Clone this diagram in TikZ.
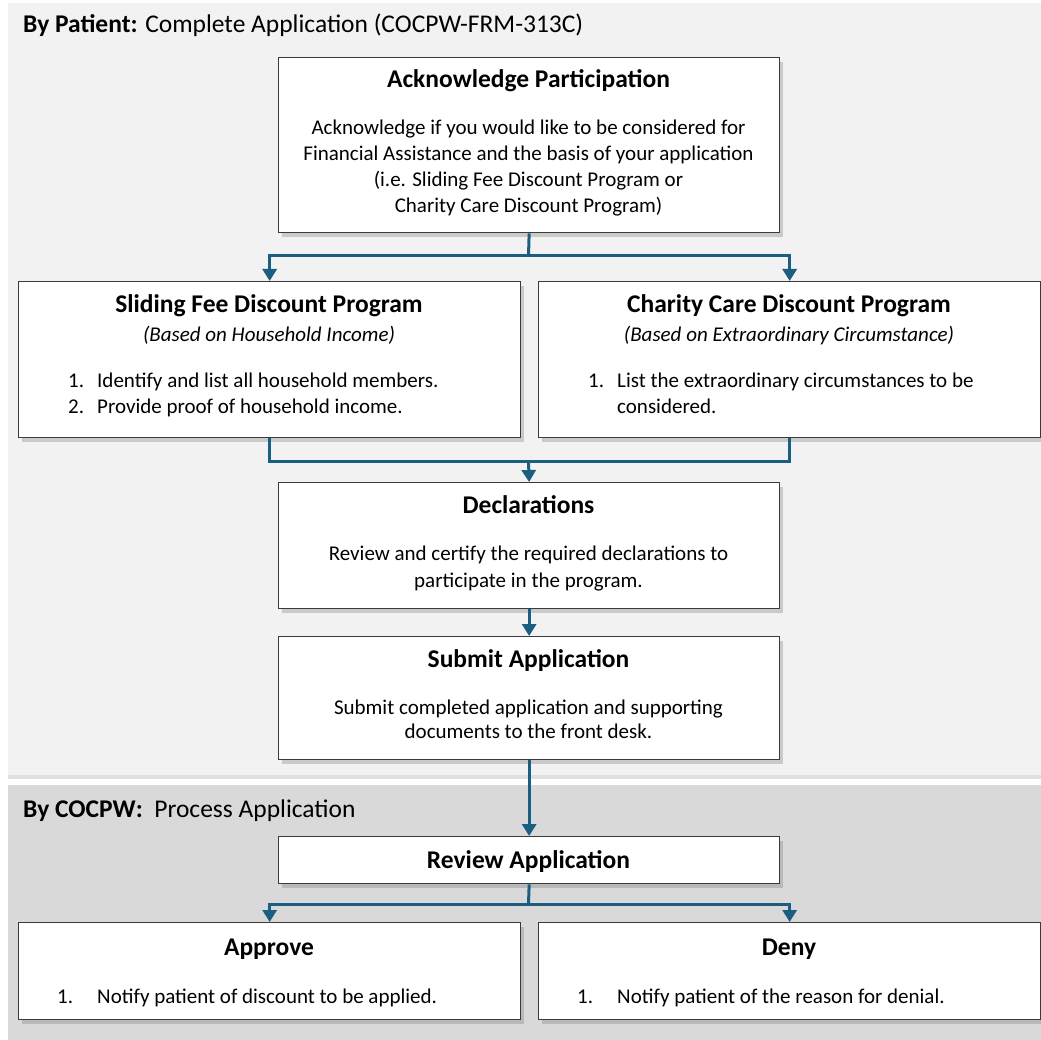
\documentclass[tikz,border=0pt]{standalone}
\usepackage{fontspec}
\setmainfont{Carlito}
\usetikzlibrary{shadows,arrows.meta}
\definecolor{panelA}{HTML}{F2F2F2}
\definecolor{panelB}{HTML}{D9D9D9}
\definecolor{connC}{HTML}{1B5E82}
\definecolor{edgeC}{HTML}{3A3A3A}
\tikzset{
  panel/.style={draw=none, rectangle, inner sep=0pt, anchor=north west},
  box/.style={rectangle, draw=edgeC, line width=1.3pt, fill=white, inner sep=0pt, anchor=north west,
    drop shadow={opacity=0.35, shadow xshift=3pt, shadow yshift=-4pt}},
  ttl/.style={font=\fontsize{25.5}{28}\selectfont\bfseries, anchor=base, inner sep=0pt},
  txt/.style={font=\fontsize{21}{24}\selectfont, anchor=base, inner sep=0pt},
  sub/.style={font=\fontsize{21}{24}\selectfont\itshape, anchor=base, inner sep=0pt},
  itm/.style={font=\fontsize{21}{24}\selectfont, anchor=base west, inner sep=0pt},
  hdr/.style={font=\fontsize{25.5}{28}\selectfont, anchor=base west, inner sep=0pt},
  conn/.style={draw=connC, line width=3pt, -{Triangle[width=14pt,length=12pt]}},
  connl/.style={draw=connC, line width=3pt}
}
\begin{document}
\begin{tikzpicture}[x=1pt,y=-1pt]
\useasboundingbox (0,0) rectangle (1041,1040);
\fill[white] (0,0) rectangle (1041,1040);
% panels
\node[panel, fill=panelA, minimum width=1033, minimum height=772,
  drop shadow={opacity=0.25, shadow xshift=0pt, shadow yshift=-4pt}] (pA) at (8,3) {};
\node[panel, fill=panelB, minimum width=1033, minimum height=255] (pB) at (8,785) {};
\node[hdr] (hA) at (23,33) {\textbf{By Patient:} Complete Application (COCPW-FRM-313C)};
\node[hdr] (hB) at (23,817) {\textbf{By COCPW:}\ \ Process Application};

% boxes
\node[box, minimum width=501, minimum height=175] (ack) at (278,57) {};
\node[box, minimum width=502, minimum height=156] (slide) at (18,281) {};
\node[box, minimum width=502, minimum height=156] (char) at (538,281) {};
\node[box, minimum width=501, minimum height=126] (decl) at (278,482) {};
\node[box, minimum width=501, minimum height=123] (subm) at (278,636) {};
\node[box, minimum width=501, minimum height=47] (rev) at (278,836) {};
\node[box, minimum width=502, minimum height=97] (appr) at (18,922) {};
\node[box, minimum width=502, minimum height=97] (deny) at (538,922) {};

% texts
\node[ttl] (ackT) at (528.5,88) {Acknowledge Participation};
\node[txt] (ack1) at (528.5,135) {Acknowledge if you would like to be considered for};
\node[txt] (ack2) at (528.5,161) {Financial Assistance and the basis of your application};
\node[txt] (ack3) at (528.5,187) {(i.e. Sliding Fee Discount Program or};
\node[txt] (ack4) at (528.5,213) {Charity Care Discount Program)};

\node[ttl] (slT) at (269,313) {Sliding Fee Discount Program};
\node[sub] (slS) at (269,342) {(Based on Household Income)};
\node[itm] (sl1n) at (68,387) {1.};
\node[itm] (sl1) at (97,387) {Identify and list all household members.};
\node[itm] (sl2n) at (68,413) {2.};
\node[itm] (sl2) at (97,413) {Provide proof of household income.};

\node[ttl] (chT) at (789,313) {Charity Care Discount Program};
\node[sub] (chS) at (789,342) {(Based on Extraordinary Circumstance)};
\node[itm] (ch1n) at (588,387) {1.};
\node[itm] (ch1) at (617,387) {List the extraordinary circumstances to be};
\node[itm] (ch2) at (617,413) {considered.};

\node[ttl] (deT) at (528.5,513) {Declarations};
\node[txt] (de1) at (528.5,560) {Review and certify the required declarations to};
\node[txt] (de2) at (528.5,587) {participate in the program.};

\node[ttl] (suT) at (528.5,667) {Submit Application};
\node[txt] (su1) at (528.5,714) {Submit completed application and supporting};
\node[txt] (su2) at (528.5,738) {documents to the front desk.};

\node[ttl] (reT) at (528.5,868) {Review Application};

\node[ttl] (apT) at (269,955) {Approve};
\node[itm] (ap1n) at (57,1003) {1.};
\node[itm] (ap1) at (97,1003) {Notify patient of discount to be applied.};

\node[ttl] (dnT) at (789,955) {Deny};
\node[itm] (dn1n) at (577,1003) {1.};
\node[itm] (dn1) at (617,1003) {Notify patient of the reason for denial.};

% connectors
\coordinate (j1) at (528.5,256);
\draw[connl] (ack.south) -- (j1);
\draw[conn] (j1) -| (slide.north);
\draw[conn] (j1) -| (char.north);

\coordinate (j2) at (528.5,461);
\draw[connl] (slide.south) |- (j2) -| (char.south);
\draw[conn] (j2) -- (decl.north);

\draw[conn] (decl.south) -- (subm.north);
\draw[conn] (subm.south) -- (rev.north);

\coordinate (j3) at (528.5,904);
\draw[connl] (rev.south) -- (j3);
\draw[conn] (j3) -| (appr.north);
\draw[conn] (j3) -| (deny.north);
\end{tikzpicture}
\end{document}
